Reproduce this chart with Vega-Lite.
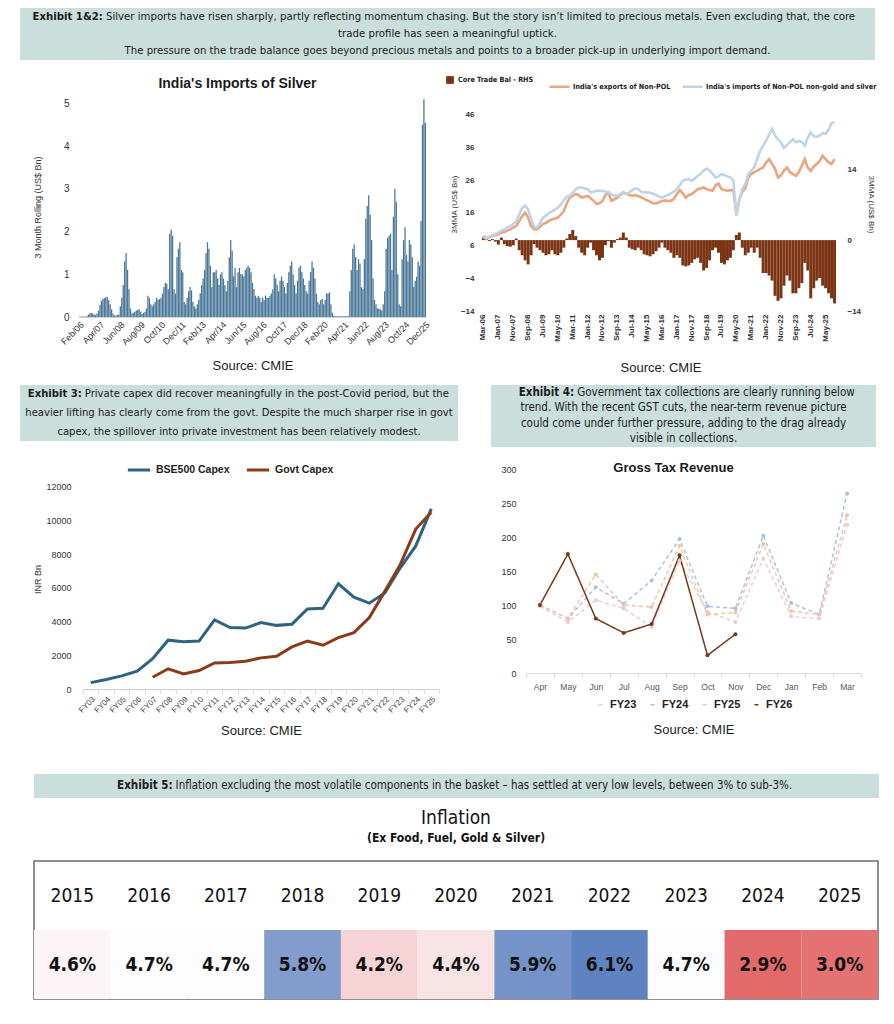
{
"$schema": "https://vega.github.io/schema/vega-lite/v6.json",
"background": "white",
"padding": {"left": 20, "top": 8, "right": 5, "bottom": 5},
"config": {
  "view": {"stroke": null},
  "font": "Liberation Sans",
  "axis": {"grid": false, "labelColor": "#404040", "titleColor": "#404040", "domainColor": "#d9d9d9", "tickColor": "#d9d9d9"},
  "legend": {"layout": {"top": {"anchor": "middle", "direction": "horizontal", "margin": 4}, "bottom": {"anchor": "middle"}}}
},
"spacing": 10,
"resolve": {"scale": {"color": "independent", "fill": "independent", "stroke": "independent", "strokeDash": "independent", "strokeWidth": "independent", "size": "independent"}, "legend": {"color": "independent", "fill": "independent", "stroke": "independent", "strokeDash": "independent", "strokeWidth": "independent", "size": "independent"}},
"vconcat": [
  {
    "width": 855, "height": 52,
    "view": {"fill": "#cadedb"},
    "layer": [
      {"data": {"values": [{"l": 2, "t": "trade profile has seen a meaningful uptick."}, {"l": 3, "t": "The pressure on the trade balance goes beyond precious metals and points to a broader pick-up in underlying import demand."}]},
       "mark": {"type": "text", "align": "center", "baseline": "middle", "font": "DejaVu Sans Condensed, Liberation Sans", "fontSize": 11.3, "color": "#1a1a1a"},
       "encoding": {"x": {"datum": 0.5, "type": "quantitative", "scale": {"domain": [0, 1], "nice": false}, "axis": null}, "y": {"field": "l", "type": "ordinal", "scale": {"type": "point", "domain": [1, 2, 3], "padding": 0.5}, "axis": null}, "text": {"field": "t"}}},
      {"data": {"values": [{"l": 1, "t": "Silver imports have risen sharply, partly reflecting momentum chasing. But the story isn’t limited to precious metals. Even excluding that, the core"}]},
       "mark": {"type": "text", "align": "left", "baseline": "middle", "dx": 3, "font": "DejaVu Sans Condensed, Liberation Sans", "fontSize": 11.3, "color": "#1a1a1a"},
       "encoding": {"x": {"datum": 0.097, "type": "quantitative", "scale": {"domain": [0, 1], "nice": false}, "axis": null}, "y": {"field": "l", "type": "ordinal", "scale": {"type": "point", "domain": [1, 2, 3], "padding": 0.5}, "axis": null}, "text": {"field": "t"}}},
      {"data": {"values": [{"l": 1, "t": "Exhibit 1&2:"}]},
       "mark": {"type": "text", "align": "right", "baseline": "middle", "fontWeight": "bold", "font": "DejaVu Sans Condensed, Liberation Sans", "fontSize": 11.3, "color": "#1a1a1a"},
       "encoding": {"x": {"datum": 0.097, "type": "quantitative", "scale": {"domain": [0, 1], "nice": false}, "axis": null}, "y": {"field": "l", "type": "ordinal", "scale": {"type": "point", "domain": [1, 2, 3], "padding": 0.5}, "axis": null}, "text": {"field": "t"}}}
    ]
  },
  {
    "spacing": 8,
    "resolve": {"scale": {"color": "independent", "fill": "independent", "stroke": "independent"}, "legend": {"color": "independent", "fill": "independent", "stroke": "independent"}},
    "hconcat": [
      {
        "spacing": 12,
        "hconcat": [
          {"width": 1, "height": 1, "data": {"values": [{}]}, "mark": {"type": "text", "text": ""}},
          {
            "width": 347, "height": 220,
            "title": {"text": "India's Imports of Silver", "fontSize": 14, "fontWeight": "bold", "color": "#1a1a1a", "offset": 6, "dx": -15},
            "data": {"values": [
{"m":"2006-02","v":0.01},{"m":"2006-03","v":0.01},{"m":"2006-04","v":0.01},{"m":"2006-05","v":0.01},{"m":"2006-06","v":0.01},{"m":"2006-07","v":0.02},{"m":"2006-08","v":0.05},{"m":"2006-09","v":0.08},{"m":"2006-10","v":0.1},{"m":"2006-11","v":0.08},{"m":"2006-12","v":0.06},
{"m":"2007-01","v":0.05},{"m":"2007-02","v":0.08},{"m":"2007-03","v":0.15},{"m":"2007-04","v":0.28},{"m":"2007-05","v":0.38},{"m":"2007-06","v":0.42},{"m":"2007-07","v":0.44},{"m":"2007-08","v":0.46},{"m":"2007-09","v":0.47},{"m":"2007-10","v":0.4},{"m":"2007-11","v":0.3},{"m":"2007-12","v":0.18},
{"m":"2008-01","v":0.08},{"m":"2008-02","v":0.04},{"m":"2008-03","v":0.03},{"m":"2008-04","v":0.05},{"m":"2008-05","v":0.06},{"m":"2008-06","v":0.25},{"m":"2008-07","v":0.45},{"m":"2008-08","v":0.75},{"m":"2008-09","v":1.3},{"m":"2008-10","v":1.5},{"m":"2008-11","v":1.1},{"m":"2008-12","v":0.65},
{"m":"2009-01","v":0.2},{"m":"2009-02","v":0.08},{"m":"2009-03","v":0.1},{"m":"2009-04","v":0.12},{"m":"2009-05","v":0.15},{"m":"2009-06","v":0.17},{"m":"2009-07","v":0.18},{"m":"2009-08","v":0.12},{"m":"2009-09","v":0.07},{"m":"2009-10","v":0.1},{"m":"2009-11","v":0.12},{"m":"2009-12","v":0.2},
{"m":"2010-01","v":0.5},{"m":"2010-02","v":0.45},{"m":"2010-03","v":0.3},{"m":"2010-04","v":0.25},{"m":"2010-05","v":0.3},{"m":"2010-06","v":0.35},{"m":"2010-07","v":0.45},{"m":"2010-08","v":0.4},{"m":"2010-09","v":0.42},{"m":"2010-10","v":0.45},{"m":"2010-11","v":0.55},{"m":"2010-12","v":0.7},
{"m":"2011-01","v":0.8},{"m":"2011-02","v":0.78},{"m":"2011-03","v":0.65},{"m":"2011-04","v":1.95},{"m":"2011-05","v":2.05},{"m":"2011-06","v":1.9},{"m":"2011-07","v":0.65},{"m":"2011-08","v":0.55},{"m":"2011-09","v":1.4},{"m":"2011-10","v":1.6},{"m":"2011-11","v":1.75},{"m":"2011-12","v":1.1},
{"m":"2012-01","v":1.05},{"m":"2012-02","v":0.35},{"m":"2012-03","v":0.3},{"m":"2012-04","v":0.45},{"m":"2012-05","v":0.6},{"m":"2012-06","v":0.7},{"m":"2012-07","v":0.62},{"m":"2012-08","v":0.35},{"m":"2012-09","v":0.25},{"m":"2012-10","v":0.2},{"m":"2012-11","v":0.3},{"m":"2012-12","v":0.4},
{"m":"2013-01","v":0.55},{"m":"2013-02","v":0.75},{"m":"2013-03","v":0.9},{"m":"2013-04","v":1.1},{"m":"2013-05","v":1.5},{"m":"2013-06","v":1.75},{"m":"2013-07","v":1.6},{"m":"2013-08","v":1.2},{"m":"2013-09","v":0.7},{"m":"2013-10","v":1.05},{"m":"2013-11","v":1.05},{"m":"2013-12","v":1.1},
{"m":"2014-01","v":0.9},{"m":"2014-02","v":0.75},{"m":"2014-03","v":1.0},{"m":"2014-04","v":1.05},{"m":"2014-05","v":0.9},{"m":"2014-06","v":0.75},{"m":"2014-07","v":0.6},{"m":"2014-08","v":0.85},{"m":"2014-09","v":1.4},{"m":"2014-10","v":1.8},{"m":"2014-11","v":1.55},{"m":"2014-12","v":0.95},
{"m":"2015-01","v":1.15},{"m":"2015-02","v":0.7},{"m":"2015-03","v":1.05},{"m":"2015-04","v":1.15},{"m":"2015-05","v":1.0},{"m":"2015-06","v":1.0},{"m":"2015-07","v":0.95},{"m":"2015-08","v":1.1},{"m":"2015-09","v":1.15},{"m":"2015-10","v":1.2},{"m":"2015-11","v":1.15},{"m":"2015-12","v":1.05},
{"m":"2016-01","v":0.8},{"m":"2016-02","v":0.65},{"m":"2016-03","v":0.5},{"m":"2016-04","v":0.45},{"m":"2016-05","v":0.5},{"m":"2016-06","v":0.45},{"m":"2016-07","v":0.35},{"m":"2016-08","v":0.45},{"m":"2016-09","v":0.4},{"m":"2016-10","v":0.5},{"m":"2016-11","v":0.45},{"m":"2016-12","v":0.45},
{"m":"2017-01","v":0.5},{"m":"2017-02","v":0.55},{"m":"2017-03","v":0.65},{"m":"2017-04","v":1.0},{"m":"2017-05","v":0.9},{"m":"2017-06","v":0.75},{"m":"2017-07","v":0.6},{"m":"2017-08","v":0.85},{"m":"2017-09","v":0.95},{"m":"2017-10","v":0.85},{"m":"2017-11","v":0.7},{"m":"2017-12","v":0.55},
{"m":"2018-01","v":0.8},{"m":"2018-02","v":1.05},{"m":"2018-03","v":1.2},{"m":"2018-04","v":1.3},{"m":"2018-05","v":1.0},{"m":"2018-06","v":0.75},{"m":"2018-07","v":0.55},{"m":"2018-08","v":0.85},{"m":"2018-09","v":1.15},{"m":"2018-10","v":1.2},{"m":"2018-11","v":1.05},{"m":"2018-12","v":0.9},
{"m":"2019-01","v":0.75},{"m":"2019-02","v":0.6},{"m":"2019-03","v":0.55},{"m":"2019-04","v":0.85},{"m":"2019-05","v":1.05},{"m":"2019-06","v":1.3},{"m":"2019-07","v":1.15},{"m":"2019-08","v":0.9},{"m":"2019-09","v":0.55},{"m":"2019-10","v":0.35},{"m":"2019-11","v":0.3},{"m":"2019-12","v":0.4},
{"m":"2020-01","v":0.42},{"m":"2020-02","v":0.3},{"m":"2020-03","v":0.4},{"m":"2020-04","v":0.55},{"m":"2020-05","v":0.55},{"m":"2020-06","v":0.58},{"m":"2020-07","v":0.3},{"m":"2020-08","v":0.1},{"m":"2020-09","v":0.03},{"m":"2020-10","v":0.02},{"m":"2020-11","v":0.02},{"m":"2020-12","v":0.02},
{"m":"2021-01","v":0.02},{"m":"2021-02","v":0.02},{"m":"2021-03","v":0.02},{"m":"2021-04","v":0.02},{"m":"2021-05","v":0.02},{"m":"2021-06","v":0.02},{"m":"2021-07","v":0.02},{"m":"2021-08","v":0.6},{"m":"2021-09","v":1.1},{"m":"2021-10","v":1.6},{"m":"2021-11","v":1.7},{"m":"2021-12","v":1.4},
{"m":"2022-01","v":1.1},{"m":"2022-02","v":1.35},{"m":"2022-03","v":1.25},{"m":"2022-04","v":0.7},{"m":"2022-05","v":0.65},{"m":"2022-06","v":1.35},{"m":"2022-07","v":2.3},{"m":"2022-08","v":2.6},{"m":"2022-09","v":2.85},{"m":"2022-10","v":2.4},{"m":"2022-11","v":1.8},{"m":"2022-12","v":0.9},
{"m":"2023-01","v":0.4},{"m":"2023-02","v":0.3},{"m":"2023-03","v":0.2},{"m":"2023-04","v":0.2},{"m":"2023-05","v":0.18},{"m":"2023-06","v":0.15},{"m":"2023-07","v":0.3},{"m":"2023-08","v":0.6},{"m":"2023-09","v":1.6},{"m":"2023-10","v":1.85},{"m":"2023-11","v":1.9},{"m":"2023-12","v":1.95},
{"m":"2024-01","v":1.1},{"m":"2024-02","v":2.35},{"m":"2024-03","v":3.0},{"m":"2024-04","v":2.7},{"m":"2024-05","v":1.0},{"m":"2024-06","v":0.3},{"m":"2024-07","v":0.25},{"m":"2024-08","v":1.35},{"m":"2024-09","v":1.8},{"m":"2024-10","v":2.1},{"m":"2024-11","v":1.45},{"m":"2024-12","v":1.3},
{"m":"2025-01","v":1.8},{"m":"2025-02","v":1.7},{"m":"2025-03","v":1.4},{"m":"2025-04","v":0.7},{"m":"2025-05","v":0.85},{"m":"2025-06","v":0.95},{"m":"2025-07","v":1.3},{"m":"2025-08","v":1.2},{"m":"2025-09","v":2.25},{"m":"2025-10","v":4.5},{"m":"2025-11","v":5.1},{"m":"2025-12","v":4.55}
            ]},
            "mark": {"type": "bar", "color": "#4a7798"},
            "encoding": {
              "x": {"field": "m", "type": "ordinal", "sort": null, "scale": {"paddingInner": 0.12, "paddingOuter": 0},
                    "axis": {"values": ["2006-02","2007-04","2008-06","2009-08","2010-10","2011-12","2013-02","2014-04","2015-06","2016-08","2017-10","2018-12","2020-02","2021-04","2022-06","2023-08","2024-10","2025-12"],
                             "labelExpr": "utcFormat(toDate(datum.value + '-01'), '%b/%y')", "labelAngle": -45, "labelFontSize": 9, "labelColor": "#333", "labelPadding": 3, "ticks": false, "domainColor": "#d0d0d0",
                             "title": "Source: CMIE", "titleFontSize": 13, "titleFontWeight": "normal", "titleColor": "#222", "titlePadding": 13}},
              "y": {"field": "v", "type": "quantitative", "scale": {"domain": [0, 5.15], "nice": false},
                    "axis": {"values": [0, 1, 2, 3, 4, 5], "labelFontSize": 10, "labelColor": "#333", "labelPadding": 10, "domain": false, "ticks": false,
                             "title": "3 Month Rolling (US$ Bn)", "titleFontSize": 9, "titleFontWeight": "normal", "titleColor": "#333", "titlePadding": 21}}
            }
          }
        ]
      },
      {
        "width": 357, "height": 214,
        "data": {"values": [
{"m":"2006-03","e":9,"i":8.5,"b":0.5},{"m":"2006-05","e":8.3,"i":8.2,"b":0.3},{"m":"2006-07","e":8.5,"i":8.8,"b":-0.2},{"m":"2006-09","e":9,"i":9.2,"b":0.2},{"m":"2006-11","e":9.2,"i":9.6,"b":-0.3},
{"m":"2007-01","e":9.5,"i":10,"b":-0.9},{"m":"2007-03","e":10,"i":10.6,"b":0.5},{"m":"2007-05","e":10.2,"i":11,"b":-0.8},{"m":"2007-07","e":10.6,"i":11.6,"b":-1.2},{"m":"2007-09","e":11,"i":12,"b":-1.3},{"m":"2007-11","e":11.5,"i":12.6,"b":-1},
{"m":"2008-01","e":12,"i":13.5,"b":0.3},{"m":"2008-03","e":13.5,"i":15.5,"b":-2},{"m":"2008-05","e":15,"i":17.5,"b":-3},{"m":"2008-07","e":16.1,"i":18.2,"b":-4},{"m":"2008-09","e":14.6,"i":17.2,"b":-4.8},{"m":"2008-11","e":12,"i":14,"b":-3},
{"m":"2009-01","e":11,"i":11.8,"b":-0.8},{"m":"2009-03","e":11,"i":11.5,"b":-1.5},{"m":"2009-05","e":11.8,"i":13,"b":-2},{"m":"2009-07","e":12.6,"i":14.6,"b":-2.5},{"m":"2009-09","e":13,"i":15.2,"b":-3},{"m":"2009-11","e":13.6,"i":16,"b":-2.8},
{"m":"2010-01","e":14,"i":16.5,"b":-2},{"m":"2010-03","e":14.3,"i":17,"b":-2.8},{"m":"2010-05","e":14.6,"i":17.7,"b":-3},{"m":"2010-07","e":15.5,"i":18.5,"b":-2.5},{"m":"2010-09","e":16.6,"i":20,"b":-1.5},{"m":"2010-11","e":19,"i":21,"b":0.3},
{"m":"2011-01","e":20.7,"i":21.2,"b":1.2},{"m":"2011-03","e":21.2,"i":22.2,"b":2},{"m":"2011-05","e":21.8,"i":23.2,"b":0.8},{"m":"2011-07","e":21.5,"i":23.8,"b":-1.5},{"m":"2011-09","e":20.7,"i":23.8,"b":-2.5},{"m":"2011-11","e":21,"i":23.5,"b":-3},
{"m":"2012-01","e":21.2,"i":23.3,"b":-1.5},{"m":"2012-03","e":20.5,"i":22.3,"b":-0.5},{"m":"2012-05","e":19.7,"i":22.5,"b":-2},{"m":"2012-07","e":18.8,"i":22.8,"b":-3},{"m":"2012-09","e":19,"i":22.8,"b":-4},{"m":"2012-11","e":19.7,"i":22.8,"b":-3.5},
{"m":"2013-01","e":21.5,"i":22.5,"b":-1},{"m":"2013-03","e":22.3,"i":22.3,"b":-0.2},{"m":"2013-05","e":19.7,"i":21.8,"b":-1.5},{"m":"2013-07","e":20.2,"i":21.3,"b":-0.5},{"m":"2013-09","e":20.7,"i":21.3,"b":0.2},{"m":"2013-11","e":21.5,"i":21.8,"b":0.5},
{"m":"2014-01","e":22.3,"i":22,"b":1.5},{"m":"2014-03","e":22,"i":21.8,"b":0.5},{"m":"2014-05","e":21.5,"i":22.3,"b":-1.5},{"m":"2014-07","e":21.2,"i":23,"b":-1.8},{"m":"2014-09","e":21.5,"i":23.5,"b":-2},{"m":"2014-11","e":21.2,"i":23.3,"b":-1.5},
{"m":"2015-01","e":20.8,"i":22.5,"b":-2},{"m":"2015-03","e":20.3,"i":22.3,"b":-2.8},{"m":"2015-05","e":19.9,"i":22.3,"b":-3},{"m":"2015-07","e":19.5,"i":22.2,"b":-3.2},{"m":"2015-09","e":19,"i":21.9,"b":-2.8},{"m":"2015-11","e":18.9,"i":21.5,"b":-2.2},
{"m":"2016-01","e":19.3,"i":21,"b":-1.5},{"m":"2016-03","e":19.7,"i":20.7,"b":-0.5},{"m":"2016-05","e":19.8,"i":21.2,"b":-1.5},{"m":"2016-07","e":19.7,"i":21.5,"b":-2},{"m":"2016-09","e":19.7,"i":22,"b":-2.5},{"m":"2016-11","e":20.3,"i":22.5,"b":-3.5},
{"m":"2017-01","e":21.8,"i":23.3,"b":-3},{"m":"2017-03","e":23,"i":24.5,"b":-3.5},{"m":"2017-05","e":22,"i":25.9,"b":-5},{"m":"2017-07","e":20.7,"i":26.2,"b":-5.2},{"m":"2017-09","e":21.5,"i":26.4,"b":-5},{"m":"2017-11","e":21.8,"i":25.9,"b":-4.5},
{"m":"2018-01","e":22.5,"i":26.5,"b":-3.8},{"m":"2018-03","e":23.3,"i":27.4,"b":-3.5},{"m":"2018-05","e":23.5,"i":28,"b":-4.5},{"m":"2018-07","e":23.8,"i":29,"b":-6},{"m":"2018-09","e":23.3,"i":29.6,"b":-5.5},{"m":"2018-11","e":23,"i":29,"b":-4},
{"m":"2019-01","e":22.8,"i":28,"b":-2},{"m":"2019-03","e":24.5,"i":26.9,"b":-1.5},{"m":"2019-05","e":25,"i":27.2,"b":-2.5},{"m":"2019-07","e":23.3,"i":27.9,"b":-4.5},{"m":"2019-09","e":23,"i":27.6,"b":-4.8},{"m":"2019-11","e":22.8,"i":27.2,"b":-4},
{"m":"2020-01","e":23,"i":26.9,"b":-3.5},{"m":"2020-03","e":23,"i":25.9,"b":-2},{"m":"2020-05","e":15.6,"i":15.1,"b":1},{"m":"2020-07","e":20.2,"i":20,"b":1.5},{"m":"2020-09","e":22.5,"i":23.5,"b":-1.5},{"m":"2020-11","e":23.5,"i":24.8,"b":-3},
{"m":"2021-01","e":26.9,"i":27.9,"b":-2.5},{"m":"2021-03","e":27.9,"i":28.9,"b":-1.5},{"m":"2021-05","e":28.5,"i":30,"b":-2.5},{"m":"2021-07","e":28.9,"i":32.5,"b":-1.5},{"m":"2021-09","e":29.5,"i":35,"b":-3.5},{"m":"2021-11","e":29.9,"i":36.6,"b":-6.5},
{"m":"2022-01","e":31.5,"i":38.1,"b":-6.5},{"m":"2022-03","e":32.5,"i":40,"b":-7},{"m":"2022-05","e":31,"i":41.7,"b":-8},{"m":"2022-07","e":29.5,"i":39.7,"b":-11},{"m":"2022-09","e":26.9,"i":38.5,"b":-12},{"m":"2022-11","e":27.5,"i":37.6,"b":-11.5},
{"m":"2023-01","e":29,"i":35.9,"b":-9},{"m":"2023-03","e":29.9,"i":36.8,"b":-7},{"m":"2023-05","e":28.5,"i":37.6,"b":-8},{"m":"2023-07","e":27.9,"i":38.6,"b":-10.5},{"m":"2023-09","e":27.4,"i":37.6,"b":-10.5},{"m":"2023-11","e":28.5,"i":38.1,"b":-9.5},
{"m":"2024-01","e":30.5,"i":37.8,"b":-8.5},{"m":"2024-03","e":32.5,"i":36.6,"b":-4.5},{"m":"2024-05","e":29.9,"i":39,"b":-6},{"m":"2024-07","e":28.9,"i":40.7,"b":-11.5},{"m":"2024-09","e":30.2,"i":39.5,"b":-9.5},{"m":"2024-11","e":31,"i":39.3,"b":-8},
{"m":"2025-01","e":31.9,"i":39.7,"b":-7.5},{"m":"2025-03","e":33.5,"i":40.5,"b":-9},{"m":"2025-05","e":32.5,"i":40.2,"b":-9.5},{"m":"2025-07","e":31.5,"i":41.5,"b":-10.5},{"m":"2025-09","e":31,"i":43.5,"b":-11.5},{"m":"2025-11","e":32.5,"i":43.8,"b":-12.5}
        ]},
        "encoding": {
          "x": {"field": "m", "type": "ordinal", "sort": null, "scale": {"paddingInner": 0, "paddingOuter": 0},
                "axis": {"values": ["2006-03","2007-01","2007-11","2008-09","2009-07","2010-05","2011-03","2012-01","2012-11","2013-09","2014-07","2015-05","2016-03","2017-01","2017-11","2018-09","2019-07","2020-05","2021-03","2022-01","2022-11","2023-09","2024-07","2025-05"],
                         "labelExpr": "utcFormat(toDate(datum.value + '-01'), '%b-%y')", "labelAngle": -90, "labelFontSize": 8, "labelFontWeight": "bold", "labelColor": "#333", "labelPadding": 3, "ticks": false, "domain": false,
                         "title": "Source: CMIE", "titleFontSize": 13, "titleFontWeight": "normal", "titleColor": "#222", "titlePadding": 20}}
        },
        "layer": [
          {
            "mark": {"type": "bar"},
            "encoding": {
              "y": {"field": "b", "type": "quantitative", "scale": {"domain": [-14, 28.25], "nice": false},
                    "axis": {"orient": "right", "values": [-14, 0, 14], "labelFontSize": 8, "labelFontWeight": "bold", "labelColor": "#333", "labelPadding": 8, "domain": false, "ticks": false,
                             "title": "3MMA (US$ Bn)", "titleFontSize": 8, "titleFontWeight": "normal", "titleColor": "#333", "titlePadding": 6}},
              "fill": {"datum": "Core Trade Bal - RHS", "type": "nominal", "scale": {"domain": ["Core Trade Bal - RHS"], "range": ["#7b3515"]},
                       "legend": {"orient": "top", "title": null, "symbolType": "square", "symbolSize": 60, "labelFont": "DejaVu Sans Condensed, Liberation Sans", "labelFontSize": 7.2, "labelFontWeight": "bold", "labelColor": "#222", "labelOffset": 3, "labelLimit": 400, "padding": 5, "offset": 0}}
            }
          },
          {
            "layer": [
              {
                "data": {"values": [{"z": 0}]},
                "mark": {"type": "rule", "color": "#d6d6d6", "strokeWidth": 1},
                "encoding": {"y": {"field": "z", "type": "quantitative"}}
              },
              {
                "transform": [{"fold": ["e", "i"], "as": ["s", "val"]}],
                "mark": {"type": "line", "strokeWidth": 2.6},
                "encoding": {
                  "y": {"field": "val", "type": "quantitative"},
                  "stroke": {"field": "s", "type": "nominal", "scale": {"domain": ["e", "i"], "range": ["#eba47f", "#bfd4e8"]},
                             "legend": {"orient": "top", "title": null, "symbolType": "stroke", "symbolSize": 400, "symbolStrokeWidth": 2.5, "labelFont": "DejaVu Sans Condensed, Liberation Sans", "labelFontSize": 7.2, "labelFontWeight": "bold", "labelColor": "#222", "labelOffset": 2, "labelLimit": 400, "columnPadding": 6, "padding": 5, "offset": 0,
                                        "labelExpr": "datum.value == 'e' ? \"India's exports of Non-POL\" : \"India's imports of Non-POL non-gold and silver\""}}
                }
              }
            ],
            "encoding": {
              "y": {"type": "quantitative", "scale": {"domain": [-14, 51.5], "nice": false},
                    "axis": {"orient": "left", "values": [-14, -4, 6, 16, 26, 36, 46], "labelFontSize": 8, "labelFontWeight": "bold", "labelColor": "#333", "labelPadding": 8, "domain": false, "ticks": false,
                             "title": "3MMA (US$ Bn)", "titleFontSize": 8, "titleFontWeight": "normal", "titleColor": "#333", "titlePadding": 2}}
            }
          }
        ],
        "resolve": {"scale": {"y": "independent"}}
      }
    ]
  },
  {
    "spacing": 33,
    "hconcat": [
      {
        "width": 438, "height": 56,
        "view": {"fill": "#cadedb"},
        "layer": [
          {"data": {"values": [{"l": 2, "t": "heavier lifting has clearly come from the govt. Despite the much sharper rise in govt"}, {"l": 3, "t": "capex, the spillover into private investment has been relatively modest."}]},
           "mark": {"type": "text", "align": "center", "baseline": "middle", "font": "DejaVu Sans Condensed, Liberation Sans", "fontSize": 11.2, "color": "#1a1a1a"},
           "encoding": {"x": {"datum": 0.5, "type": "quantitative", "scale": {"domain": [0, 1], "nice": false}, "axis": null}, "y": {"field": "l", "type": "ordinal", "scale": {"type": "point", "domain": [1, 2, 3], "padding": 0.5}, "axis": null}, "text": {"field": "t"}}},
          {"data": {"values": [{"l": 1, "t": "Private capex did recover meaningfully in the post-Covid period, but the"}]},
           "mark": {"type": "text", "align": "left", "baseline": "middle", "dx": 3, "font": "DejaVu Sans Condensed, Liberation Sans", "fontSize": 11.2, "color": "#1a1a1a"},
           "encoding": {"x": {"datum": 0.141, "type": "quantitative", "scale": {"domain": [0, 1], "nice": false}, "axis": null}, "y": {"field": "l", "type": "ordinal", "scale": {"type": "point", "domain": [1, 2, 3], "padding": 0.5}, "axis": null}, "text": {"field": "t"}}},
          {"data": {"values": [{"l": 1, "t": "Exhibit 3:"}]},
           "mark": {"type": "text", "align": "right", "baseline": "middle", "fontWeight": "bold", "font": "DejaVu Sans Condensed, Liberation Sans", "fontSize": 11.2, "color": "#1a1a1a"},
           "encoding": {"x": {"datum": 0.141, "type": "quantitative", "scale": {"domain": [0, 1], "nice": false}, "axis": null}, "y": {"field": "l", "type": "ordinal", "scale": {"type": "point", "domain": [1, 2, 3], "padding": 0.5}, "axis": null}, "text": {"field": "t"}}}
        ]
      },
      {
        "width": 385, "height": 62,
        "view": {"fill": "#cadedb"},
        "layer": [
          {"data": {"values": [{"l": 2, "t": "trend. With the recent GST cuts, the near-term revenue picture"}, {"l": 3, "t": "could come under further pressure, adding to the drag already"}, {"l": 4, "t": "visible in collections."}]},
           "mark": {"type": "text", "align": "center", "baseline": "middle", "font": "DejaVu Sans Condensed, Liberation Sans", "fontSize": 11.5, "color": "#1a1a1a"},
           "encoding": {"x": {"datum": 0.5, "type": "quantitative", "scale": {"domain": [0, 1], "nice": false}, "axis": null}, "y": {"field": "l", "type": "ordinal", "scale": {"type": "point", "domain": [1, 2, 3, 4], "padding": 0.5}, "axis": null}, "text": {"field": "t"}}},
          {"data": {"values": [{"l": 1, "t": "Government tax collections are clearly running below"}]},
           "mark": {"type": "text", "align": "left", "baseline": "middle", "dx": 3, "font": "DejaVu Sans Condensed, Liberation Sans", "fontSize": 11.5, "color": "#1a1a1a"},
           "encoding": {"x": {"datum": 0.216, "type": "quantitative", "scale": {"domain": [0, 1], "nice": false}, "axis": null}, "y": {"field": "l", "type": "ordinal", "scale": {"type": "point", "domain": [1, 2, 3, 4], "padding": 0.5}, "axis": null}, "text": {"field": "t"}}},
          {"data": {"values": [{"l": 1, "t": "Exhibit 4:"}]},
           "mark": {"type": "text", "align": "right", "baseline": "middle", "fontWeight": "bold", "font": "DejaVu Sans Condensed, Liberation Sans", "fontSize": 11.5, "color": "#1a1a1a"},
           "encoding": {"x": {"datum": 0.216, "type": "quantitative", "scale": {"domain": [0, 1], "nice": false}, "axis": null}, "y": {"field": "l", "type": "ordinal", "scale": {"type": "point", "domain": [1, 2, 3, 4], "padding": 0.5}, "axis": null}, "text": {"field": "t"}}}
        ]
      }
    ]
  },
  {
    "spacing": 60,
    "resolve": {"scale": {"color": "independent", "fill": "independent", "strokeDash": "independent", "strokeWidth": "independent", "size": "independent"}, "legend": {"color": "independent", "fill": "independent", "strokeDash": "independent", "strokeWidth": "independent", "size": "independent"}},
    "hconcat": [
      {
        "spacing": 12,
        "hconcat": [
          {"width": 1, "height": 1, "data": {"values": [{}]}, "mark": {"type": "text", "text": ""}},
          {
            "width": 356, "height": 220,
            "data": {"values": [
{"fy":"FY03","s":"BSE500 Capex","v":380},{"fy":"FY04","s":"BSE500 Capex","v":560},{"fy":"FY05","s":"BSE500 Capex","v":780},{"fy":"FY06","s":"BSE500 Capex","v":1060},{"fy":"FY07","s":"BSE500 Capex","v":1800},{"fy":"FY08","s":"BSE500 Capex","v":2900},{"fy":"FY09","s":"BSE500 Capex","v":2800},{"fy":"FY10","s":"BSE500 Capex","v":2850},{"fy":"FY11","s":"BSE500 Capex","v":4100},{"fy":"FY12","s":"BSE500 Capex","v":3650},{"fy":"FY13","s":"BSE500 Capex","v":3620},{"fy":"FY14","s":"BSE500 Capex","v":3950},{"fy":"FY15","s":"BSE500 Capex","v":3780},{"fy":"FY16","s":"BSE500 Capex","v":3850},{"fy":"FY17","s":"BSE500 Capex","v":4750},{"fy":"FY18","s":"BSE500 Capex","v":4800},{"fy":"FY19","s":"BSE500 Capex","v":6250},{"fy":"FY20","s":"BSE500 Capex","v":5450},{"fy":"FY21","s":"BSE500 Capex","v":5100},{"fy":"FY22","s":"BSE500 Capex","v":5700},{"fy":"FY23","s":"BSE500 Capex","v":7200},{"fy":"FY24","s":"BSE500 Capex","v":8500},{"fy":"FY25","s":"BSE500 Capex","v":10700},
{"fy":"FY07","s":"Govt Capex","v":700},{"fy":"FY08","s":"Govt Capex","v":1200},{"fy":"FY09","s":"Govt Capex","v":900},{"fy":"FY10","s":"Govt Capex","v":1100},{"fy":"FY11","s":"Govt Capex","v":1550},{"fy":"FY12","s":"Govt Capex","v":1580},{"fy":"FY13","s":"Govt Capex","v":1650},{"fy":"FY14","s":"Govt Capex","v":1850},{"fy":"FY15","s":"Govt Capex","v":1950},{"fy":"FY16","s":"Govt Capex","v":2500},{"fy":"FY17","s":"Govt Capex","v":2850},{"fy":"FY18","s":"Govt Capex","v":2600},{"fy":"FY19","s":"Govt Capex","v":3050},{"fy":"FY20","s":"Govt Capex","v":3350},{"fy":"FY21","s":"Govt Capex","v":4250},{"fy":"FY22","s":"Govt Capex","v":5800},{"fy":"FY23","s":"Govt Capex","v":7400},{"fy":"FY24","s":"Govt Capex","v":9500},{"fy":"FY25","s":"Govt Capex","v":10500}
            ]},
            "mark": {"type": "line", "strokeWidth": 3},
            "encoding": {
              "x": {"field": "fy", "type": "ordinal", "scale": {"type": "band", "paddingInner": 0, "paddingOuter": 0},
                    "axis": {"labelAngle": -45, "labelFontSize": 8, "labelColor": "#444", "labelPadding": 2, "ticks": true, "tickBand": "extent", "tickSize": 4, "domainColor": "#d0d0d0",
                             "title": "Source: CMIE", "titleFontSize": 13, "titleFontWeight": "normal", "titleColor": "#222", "titlePadding": 10}},
              "y": {"field": "v", "type": "quantitative", "scale": {"domain": [0, 13069], "nice": false},
                    "axis": {"values": [0, 2000, 4000, 6000, 8000, 10000, 12000], "format": "d", "labelFontSize": 9, "labelColor": "#333", "labelPadding": 12, "domain": false, "ticks": false,
                             "title": "INR Bn", "titleFontSize": 9, "titleFontWeight": "normal", "titleColor": "#333", "titlePadding": 3}},
              "color": {"field": "s", "type": "nominal", "scale": {"domain": ["BSE500 Capex", "Govt Capex"], "range": ["#2e6384", "#8b3b17"]},
                        "legend": {"orient": "top", "title": null, "symbolType": "stroke", "symbolSize": 500, "symbolStrokeWidth": 3, "labelFontSize": 10.5, "labelFontWeight": "bold", "labelColor": "#222", "padding": 0, "offset": -13}}
            }
          }
        ]
      },
      {
        "width": 335, "height": 204,
        "title": {"text": "Gross Tax Revenue", "fontSize": 13, "fontWeight": "bold", "color": "#1a1a1a", "offset": -10, "dx": -20},
        "data": {"values": [
{"mo":"Apr","fy":"FY23","v":98},{"mo":"May","fy":"FY23","v":75},{"mo":"Jun","fy":"FY23","v":107},{"mo":"Jul","fy":"FY23","v":95},{"mo":"Aug","fy":"FY23","v":68},{"mo":"Sep","fy":"FY23","v":165},{"mo":"Oct","fy":"FY23","v":90},{"mo":"Nov","fy":"FY23","v":75},{"mo":"Dec","fy":"FY23","v":168},{"mo":"Jan","fy":"FY23","v":83},{"mo":"Feb","fy":"FY23","v":80},{"mo":"Mar","fy":"FY23","v":218},
{"mo":"Apr","fy":"FY24","v":100},{"mo":"May","fy":"FY24","v":80},{"mo":"Jun","fy":"FY24","v":126},{"mo":"Jul","fy":"FY24","v":102},{"mo":"Aug","fy":"FY24","v":136},{"mo":"Sep","fy":"FY24","v":197},{"mo":"Oct","fy":"FY24","v":98},{"mo":"Nov","fy":"FY24","v":95},{"mo":"Dec","fy":"FY24","v":202},{"mo":"Jan","fy":"FY24","v":103},{"mo":"Feb","fy":"FY24","v":86},{"mo":"Mar","fy":"FY24","v":264},
{"mo":"Apr","fy":"FY25","v":100},{"mo":"May","fy":"FY25","v":80},{"mo":"Jun","fy":"FY25","v":145},{"mo":"Jul","fy":"FY25","v":100},{"mo":"Aug","fy":"FY25","v":97},{"mo":"Sep","fy":"FY25","v":187},{"mo":"Oct","fy":"FY25","v":86},{"mo":"Nov","fy":"FY25","v":89},{"mo":"Dec","fy":"FY25","v":190},{"mo":"Jan","fy":"FY25","v":91},{"mo":"Feb","fy":"FY25","v":86},{"mo":"Mar","fy":"FY25","v":232},
{"mo":"Apr","fy":"FY26","v":100},{"mo":"May","fy":"FY26","v":175},{"mo":"Jun","fy":"FY26","v":80},{"mo":"Jul","fy":"FY26","v":59},{"mo":"Aug","fy":"FY26","v":72},{"mo":"Sep","fy":"FY26","v":173},{"mo":"Oct","fy":"FY26","v":26},{"mo":"Nov","fy":"FY26","v":57}
        ]},
        "encoding": {
          "x": {"field": "mo", "type": "ordinal", "sort": ["Apr","May","Jun","Jul","Aug","Sep","Oct","Nov","Dec","Jan","Feb","Mar"], "scale": {"type": "band", "paddingInner": 0, "paddingOuter": 0},
                "axis": {"labelAngle": 0, "labelFontSize": 8.5, "labelColor": "#555", "labelPadding": 5, "ticks": true, "tickBand": "extent", "tickSize": 4, "domainColor": "#d9d9d9", "title": null}},
          "y": {"field": "v", "type": "quantitative", "scale": {"domain": [0, 300], "nice": false},
                "axis": {"values": [0, 50, 100, 150, 200, 250, 300], "labelFontSize": 9, "labelColor": "#333", "labelPadding": 10, "domain": false, "ticks": false, "title": null}}
        },
        "layer": [
          {
            "mark": {"type": "line"},
            "encoding": {
              "color": {"field": "fy", "type": "nominal", "scale": {"domain": ["FY23", "FY24", "FY25", "FY26"], "range": ["#ebcbd7", "#a8c3e1", "#f3c5a8", "#7a3818"]},
                        "legend": {"orient": "bottom", "direction": "horizontal", "symbolType": "stroke", "symbolSize": 700, "labelFontSize": 11, "labelFontWeight": "bold", "labelColor": "#222", "offset": 8,
                                   "title": "Source: CMIE", "titleOrient": "bottom", "titleAnchor": "middle", "titleFontSize": 13, "titleFontWeight": "normal", "titleColor": "#222", "titlePadding": 14}},
              "strokeDash": {"field": "fy", "type": "nominal", "scale": {"domain": ["FY23", "FY24", "FY25", "FY26"], "range": [[4, 3], [4, 3], [4, 3], [1, 0]]}},
              "strokeWidth": {"field": "fy", "type": "nominal", "scale": {"domain": ["FY23", "FY24", "FY25", "FY26"], "range": [1.5, 1.5, 1.5, 3.5]}}
            }
          },
          {
            "mark": {"type": "circle", "opacity": 1},
            "encoding": {
              "fill": {"field": "fy", "type": "nominal", "scale": {"domain": ["FY23", "FY24", "FY25", "FY26"], "range": ["#ebcbd7", "#a8c3e1", "#f3c5a8", "#7a3818"]}, "legend": null},
              "size": {"field": "fy", "type": "nominal", "scale": {"domain": ["FY23", "FY24", "FY25", "FY26"], "range": [16, 16, 16, 110]}, "legend": null}
            }
          }
        ]
      }
    ]
  },
  {
    "spacing": 12,
    "hconcat": [
      {"width": 1, "height": 1, "data": {"values": [{}]}, "mark": {"type": "text", "text": ""}},
      {
        "spacing": 10,
        "vconcat": [
          {
            "width": 845, "height": 24,
            "title": {"text": " ", "fontSize": 1, "offset": 25},
            "view": {"fill": "#cadedb"},
            "layer": [
              {"data": {"values": [{"l": 1, "t": "Inflation excluding the most volatile components in the basket – has settled at very low levels, between 3% to sub-3%."}]},
               "mark": {"type": "text", "align": "left", "baseline": "middle", "dx": 3, "font": "DejaVu Sans Condensed, Liberation Sans", "fontSize": 11.5, "color": "#1a1a1a"},
               "encoding": {"x": {"datum": 0.164, "type": "quantitative", "scale": {"domain": [0, 1], "nice": false}, "axis": null}, "y": {"field": "l", "type": "ordinal", "scale": {"type": "point", "domain": [1], "padding": 0.5}, "axis": null}, "text": {"field": "t"}}},
              {"data": {"values": [{"l": 1, "t": "Exhibit 5:"}]},
               "mark": {"type": "text", "align": "right", "baseline": "middle", "fontWeight": "bold", "font": "DejaVu Sans Condensed, Liberation Sans", "fontSize": 11.5, "color": "#1a1a1a"},
               "encoding": {"x": {"datum": 0.164, "type": "quantitative", "scale": {"domain": [0, 1], "nice": false}, "axis": null}, "y": {"field": "l", "type": "ordinal", "scale": {"type": "point", "domain": [1], "padding": 0.5}, "axis": null}, "text": {"field": "t"}}}
            ]
          },
          {
            "width": 844, "height": 138,
            "title": {"text": "Inflation", "subtitle": "(Ex Food, Fuel, Gold & Silver)", "anchor": "middle", "font": "DejaVu Sans Condensed, Liberation Sans", "fontSize": 19, "fontWeight": "normal", "color": "#111",
                      "subtitleFont": "DejaVu Sans Condensed, Liberation Sans", "subtitleFontSize": 12, "subtitleFontWeight": "bold", "subtitleColor": "#111", "subtitlePadding": 5, "offset": 17},
            "view": {"stroke": "#6b6b6b", "strokeWidth": 1.5},
            "data": {"values": [
{"yr":"2015","v":0.046},{"yr":"2016","v":0.047},{"yr":"2017","v":0.047},{"yr":"2018","v":0.058},{"yr":"2019","v":0.042},{"yr":"2020","v":0.044},{"yr":"2021","v":0.059},{"yr":"2022","v":0.061},{"yr":"2023","v":0.047},{"yr":"2024","v":0.029},{"yr":"2025","v":0.030}
            ]},
            "encoding": {"x": {"field": "yr", "type": "ordinal", "scale": {"paddingInner": 0, "paddingOuter": 0}, "axis": null}},
            "layer": [
              {"mark": {"type": "rect"},
               "encoding": {"y": {"datum": "val", "type": "ordinal", "scale": {"domain": ["yr", "val"], "paddingInner": 0, "paddingOuter": 0}, "axis": null},
                            "color": {"field": "v", "type": "quantitative", "scale": {"domain": [0.029, 0.047, 0.061], "range": ["#e36a6a", "#fdfcfe", "#5f82c0"], "interpolate": "rgb"}, "legend": null}}},
              {"mark": {"type": "text", "font": "DejaVu Sans Condensed, Liberation Sans", "fontSize": 19, "color": "#111"},
               "encoding": {"y": {"datum": "yr", "type": "ordinal"}, "text": {"field": "yr"}}},
              {"mark": {"type": "text", "font": "DejaVu Sans Condensed, Liberation Sans", "fontSize": 19, "fontWeight": "bold", "color": "#111"},
               "encoding": {"y": {"datum": "val", "type": "ordinal"}, "text": {"field": "v", "type": "quantitative", "format": ".1%"}}}
            ]
          }
        ]
      }
    ]
  }
]
}
